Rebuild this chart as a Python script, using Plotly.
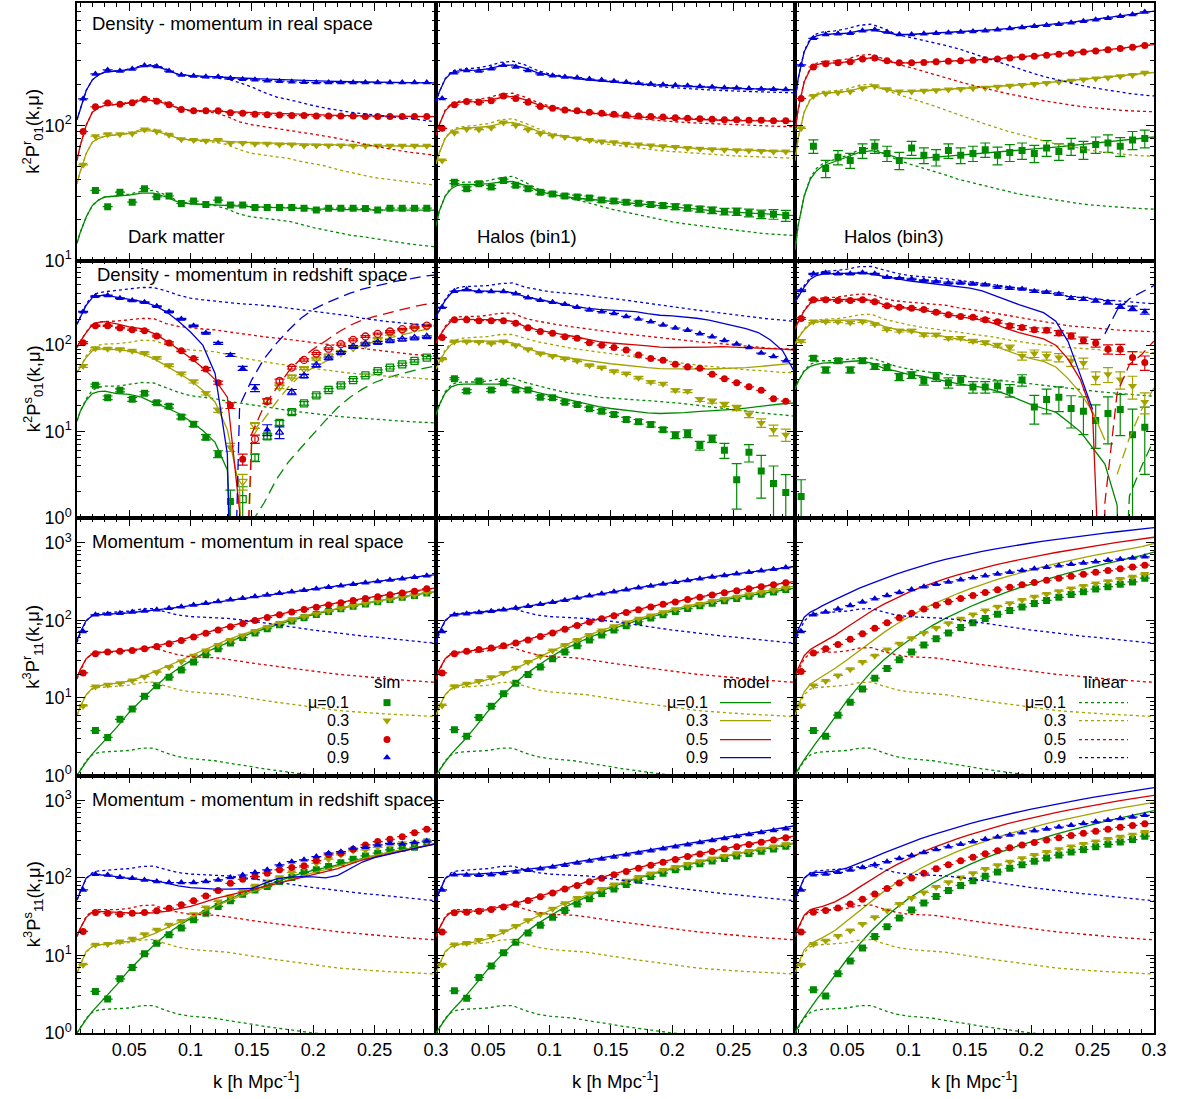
import math
import plotly.graph_objects as go

# ---------------- k grids ----------------
KS = [0.0125, 0.0225, 0.0325, 0.0425, 0.0525, 0.0625, 0.0725, 0.0825, 0.0925, 0.1025,
      0.1125, 0.1225, 0.1325, 0.1425, 0.1525, 0.1625, 0.1725, 0.1825, 0.1925, 0.2025,
      0.2125, 0.2225, 0.2325, 0.2425, 0.2525, 0.2625, 0.2725, 0.2825, 0.2925]
KM = [0.0075, 0.01, 0.015, 0.02, 0.025, 0.03, 0.04, 0.05, 0.06, 0.07, 0.08, 0.09, 0.10,
      0.11, 0.12, 0.13, 0.14, 0.15, 0.16, 0.17, 0.18, 0.19, 0.20, 0.21, 0.22, 0.23, 0.24,
      0.25, 0.26, 0.27, 0.28, 0.29, 0.30]
MUS = [1, 3, 5, 9]
MU_LABELS = ["μ=0.1", "0.3", "0.5", "0.9"]
ROWS = ["DR", "DS", "MR", "MS"]
COLS = ["DM", "H1", "H3"]
X_TICKS = [0.05, 0.1, 0.15, 0.2, 0.25, 0.3]
X_TICK_TEXT = ["0.05", "0.1", "0.15", "0.2", "0.25", "0.3"]
PANEL_TITLES = ["Density - momentum in real space", "Density - momentum in redshift space",
                "Momentum - momentum in real space", "Momentum - momentum in redshift space"]
COL_NAMES = ["Dark matter", "Halos (bin1)", "Halos (bin3)"]
Y_TITLES = ["k<sup>2</sup>P<sup>r</sup><sub>01</sub>(k,μ)", "k<sup>2</sup>P<sup>s</sup><sub>01</sub>(k,μ)",
            "k<sup>3</sup>P<sup>r</sup><sub>11</sub>(k,μ)", "k<sup>3</sup>P<sup>s</sup><sub>11</sub>(k,μ)"]
LEG_HEAD = ["sim", "model", "linear"]

# ================= Row 1: density-momentum, real space =================
SIM_DR_DM_9 = [157, 240, 257, 252, 261, 277, 272, 252, 236, 232, 229, 229, 223, 219, 217, 214, 212, 210, 208, 207, 207, 207, 207, 207, 207, 207, 207, 207, 207]
SIM_DR_DM_5 = [90, 137, 146, 143, 147, 156, 151, 142, 131, 128, 128, 128, 124, 123, 121, 120, 119, 118, 118, 117, 117, 117, 117, 116, 116, 116, 116, 116, 116]
SIM_DR_DM_3 = [51, 83, 86, 86, 87, 93, 90, 85, 79, 78, 77, 78, 74, 74, 73, 73, 72, 72, 71, 71, 71, 71, 70.5, 70.5, 70.5, 70.5, 70.5, 70.5, 70.5]
SIM_DR_DM_1 = [None, 33, 25, 32, 27, 34, 29.6, 30, 26.4, 27.5, 26, 28, 25.7, 25.7, 24.7, 24.7, 24.7, 24.7, 24.4, 23.6, 24.4, 24.4, 24.4, 24.2, 23.6, 24.4, 24.4, 24.4, 24.4]
MOD_DR_DM_9 = [110, 130, 181, 217, 236, 247, 252, 258, 272, 276, 258, 238, 233, 230, 228, 226, 224, 222, 220, 218, 216, 214, 213, 212, 211, 210, 209, 208, 208, 207, 207, 206, 206]
MOD_DR_DM_5 = [55, 70, 100, 125, 135, 140, 143, 146, 153, 153, 145, 134, 129, 128, 127, 126, 125, 124, 123, 122, 121, 120, 119.5, 119, 118.5, 118, 117.5, 117, 117, 116.5, 116, 116, 116]
MOD_DR_DM_3 = [37, 45, 62, 75, 80, 83, 85, 87, 91, 91, 86, 80, 78, 77.5, 77, 76, 75, 74.5, 74, 73.5, 73, 72.5, 72, 71.5, 71, 71, 70.5, 70.5, 70.5, 70.5, 70, 70, 70]
MOD_DR_DM_1 = [13.4, 16, 21, 25.5, 28, 29.5, 30, 30.5, 31.5, 31.5, 29.5, 27, 26.3, 26, 25.8, 25.5, 25.3, 25, 24.8, 24.6, 24.4, 24.2, 24, 24, 23.8, 23.8, 23.7, 23.7, 23.6, 23.6, 23.6, 23.6, 23.6]
LIN_DR_DM_9 = [110, 130, 181, 217, 236, 247, 252, 260, 276, 282, 262, 238, 230, 226, 224, 220, 207, 192, 175, 162, 155, 147, 140, 134, 129, 125, 122, 119, 117, 114, 112, 109, 106]
LIN_DR_DM_5 = [55, 70, 100, 125, 135, 140, 143, 148, 157, 158, 148, 134, 128, 126, 124, 116, 106, 101, 98, 95, 92, 89, 86, 83, 80, 77, 73, 70, 67, 65, 63, 61.5, 60]
LIN_DR_DM_3 = [37, 45, 62, 75, 80, 83, 85, 88, 93, 94, 88, 80, 77, 76, 75, 72, 66, 62, 60, 58.5, 57, 54, 52, 50, 47, 45, 43, 41, 40, 39, 38, 37, 36]
LIN_DR_DM_1 = [13.4, 16, 21, 25.5, 28, 29.5, 30, 31, 32.5, 33, 30.5, 27.5, 26.3, 26, 25.5, 24, 22, 21, 20.5, 20, 19.5, 18.5, 17.5, 16.8, 16, 15.4, 15, 14.5, 14, 13.6, 13.2, 12.9, 12.6]

SIM_DR_H1_9 = [158, 245, 255, 252, 262, 278, 270, 255, 240, 233, 228, 225, 220, 216, 212, 208, 205, 202, 200, 198, 196, 194, 192, 190, 189, 187, 186, 185, 184]
SIM_DR_H1_5 = [95, 142, 150, 148, 152, 165, 158, 148, 138, 134, 130, 128, 125, 123, 121, 119, 117, 116, 115, 114, 113, 112, 111, 110, 110, 109, 109, 108, 108]
SIM_DR_H1_3 = [55, 88, 94, 93, 96, 105, 100, 93, 87, 84, 82, 80, 78, 76, 75, 73, 72, 71, 70, 69, 68, 67, 66.5, 66, 65.5, 65, 64.5, 64, 64]
SIM_DR_H1_1 = [None, 38, 34, 37, 35, 39, 36, 34, 32, 31, 30, 29.5, 29, 28, 27.5, 27, 26.5, 26, 25.5, 25, 24.5, 24, 23.5, 23, 23, 22.5, 22, 22, 21.5]
MOD_DR_H1_9 = [150, 175, 220, 245, 252, 255, 256, 262, 275, 280, 265, 245, 235, 228, 222, 217, 213, 209, 206, 203, 200, 198, 196, 194, 192, 190, 189, 188, 187, 186, 185, 184, 183]
MOD_DR_H1_5 = [85, 100, 128, 142, 147, 149, 150, 153, 160, 164, 155, 143, 136, 131, 127, 124, 121, 119, 117, 115, 114, 113, 112, 111, 110, 109.5, 109, 108.5, 108, 107.5, 107, 107, 107]
MOD_DR_H1_3 = [52, 62, 80, 90, 94, 95, 96, 98, 103, 105, 99, 91, 86, 83, 80, 78, 76, 74.5, 73, 72, 71, 70, 69, 68, 67.5, 67, 66.5, 66, 65.5, 65, 65, 64.5, 64]
MOD_DR_H1_1 = [18, 23, 30, 34, 36, 36.5, 36.5, 37, 38, 38.5, 36, 33, 31, 30, 29, 28.5, 28, 27.5, 27, 26.5, 26, 25.5, 25, 24.5, 24, 23.5, 23, 22.8, 22.5, 22.3, 22, 21.8, 21.5]
LIN_DR_H1_9 = [150, 175, 222, 250, 258, 262, 265, 275, 292, 298, 280, 255, 240, 232, 226, 220, 215, 210, 205, 200, 196, 193, 190, 187, 185, 183, 181, 179, 178, 177, 176, 175, 174]
LIN_DR_H1_5 = [85, 100, 130, 145, 150, 153, 155, 160, 170, 173, 162, 148, 139, 133, 128, 124, 120, 117, 114, 112, 110, 108, 106, 105, 104, 103, 102, 101, 100, 99, 99, 98, 98]
LIN_DR_H1_3 = [52, 62, 81, 92, 96, 98, 100, 103, 110, 112, 104, 95, 88, 84, 80, 77, 74, 72, 70, 68, 66.5, 65, 64, 63, 62, 61, 60, 59.5, 59, 58.5, 58, 57.5, 57]
LIN_DR_H1_1 = [18, 23, 30, 35, 37, 38, 38, 39, 41, 42, 38, 34, 31.5, 30, 28.5, 27, 25.5, 24, 23, 22, 21, 20, 19.3, 18.7, 18.2, 17.7, 17.2, 16.8, 16.4, 16, 15.7, 15.5, 15.3]
ERR_DR_H1_1 = [0, 1, 1, 1, 1, 1, 1, 1, 1, 1, 1, 1, 1, 1, 1, 1, 1, 1, 1, 1.2, 1.2, 1.2, 1.3, 1.3, 1.4, 1.5, 1.6, 1.8, 2]

SIM_DR_H3_9 = [280, 440, 470, 475, 480, 500, 510, 490, 470, 470, 475, 480, 485, 490, 495, 500, 510, 520, 530, 540, 550, 560, 575, 590, 605, 620, 640, 660, 690]
SIM_DR_H3_5 = [158, 270, 285, 290, 295, 310, 315, 300, 290, 290, 292, 295, 298, 300, 303, 306, 310, 315, 320, 325, 330, 336, 342, 348, 355, 362, 370, 378, 390]
SIM_DR_H3_3 = [95, 165, 172, 175, 178, 188, 195, 185, 178, 178, 180, 182, 184, 186, 188, 190, 193, 196, 199, 202, 206, 210, 214, 218, 222, 226, 231, 236, 245]
SIM_DR_H3_1 = [None, 70, 48, 58, 55, 65, 70, 62, 55, 68, 60, 58, 65, 60, 62, 66, 60, 63, 65, 62, 68, 64, 70, 66, 72, 74, 70, 78, 80]
ERR_DR_H3_1 = [0, 8, 7, 7, 7, 8, 8, 8, 8, 8, 8, 8, 8, 8, 8, 8, 9, 9, 9, 9, 9, 9, 10, 10, 10, 11, 11, 12, 12]
MOD_DR_H3_9 = [150, 220, 350, 430, 460, 470, 475, 480, 500, 510, 490, 470, 470, 475, 480, 485, 490, 495, 500, 510, 520, 530, 540, 550, 560, 575, 590, 605, 620, 640, 660, 680, 700]
MOD_DR_H3_5 = [90, 130, 210, 260, 280, 288, 290, 295, 310, 315, 300, 290, 290, 292, 295, 298, 300, 303, 306, 310, 315, 320, 325, 330, 336, 342, 348, 355, 362, 370, 378, 386, 395]
MOD_DR_H3_3 = [55, 80, 125, 155, 168, 173, 175, 178, 188, 195, 185, 178, 178, 180, 182, 184, 186, 188, 190, 193, 196, 199, 202, 206, 210, 214, 218, 222, 226, 231, 236, 241, 246]
MOD_DR_H3_1 = [12, 18, 30, 40, 46, 50, 54, 58, 63, 65, 62, 58, 57, 57, 58, 59, 60, 61, 62, 63, 64, 65, 66, 67.5, 69, 70.5, 72, 73.5, 75, 76.5, 78, 80, 82]
LIN_DR_H3_9 = [150, 220, 355, 440, 475, 490, 500, 520, 550, 560, 520, 470, 450, 430, 410, 390, 370, 345, 320, 300, 280, 262, 245, 230, 218, 208, 198, 190, 183, 177, 172, 168, 165]
LIN_DR_H3_5 = [90, 130, 212, 265, 288, 297, 300, 310, 330, 335, 310, 285, 270, 255, 240, 225, 212, 200, 190, 180, 172, 165, 158, 152, 147, 142, 138, 135, 132, 130, 128, 127, 126]
LIN_DR_H3_3 = [55, 80, 126, 158, 172, 178, 180, 186, 198, 202, 186, 170, 160, 150, 140, 130, 120, 112, 104, 97, 91, 86, 81, 77, 73, 70, 67, 65, 63, 61.5, 60.5, 59.5, 59]
LIN_DR_H3_1 = [12, 18, 30, 41, 48, 52, 56, 60, 66, 68, 62, 56, 52, 49, 46, 43, 40, 38, 36, 34, 32.5, 31, 30, 29, 28, 27, 26.3, 25.7, 25.2, 24.8, 24.5, 24.2, 24]

# ================= Row 2: density-momentum, redshift space (negative = |value| open/dashed) =================
SIM_DS_DM_9 = [244, 368, 375, 349, 328, 313, 282, 244, 201, 168, 138, 105, 77, 54, 32, 10.5, -9.8, -28.7, -44, -58.5, -71, -82, -96, -103, -107, -112, -117, -121, -125]
SIM_DS_DM_5 = [107, 168, 168, 158, 151, 147, 128, 106, 86, 70, 53, 36.8, 20, 4.8, -8.2, -22.5, -38.5, -55, -67.5, -80, -91, -103, -115, -126, -135, -144, -153, -160, -168]
SIM_DS_DM_3 = [57.5, 92, 91, 90, 86, 81, 71, 58.5, 47, 38, 27.7, 17.7, 6.6, -2.65, -11.8, -22.5, -33, -43, -53.5, -69, -75, -82, -94, -103, -117, -134, -149, -158, -166]
SIM_DS_DM_1 = [None, 34.3, 24.6, 30, 23.6, 27.7, 21.5, 19.7, 14.8, 12.2, 8.6, 5.5, 1.55, -1.65, -5.0, -8.8, -12.6, -16.8, -21.2, -26.2, -30.3, -34.3, -39.5, -44.8, -50, -55, -60, -65.7, -71.9]
ERR_DS_DM_9 = [3, 4, 4, 4, 4, 4, 4, 4, 3, 3, 3, 3, 3, 3, 3, 1.5, 1.5, 2, 2, 2, 2, 2, 3, 3, 3, 3, 3, 3, 3]
ERR_DS_DM_5 = [3, 3, 3, 3, 3, 3, 3, 3, 2, 2, 2, 1.5, 1.5, 0.7, 0.9, 1.5, 2, 2, 2, 2, 2, 3, 3, 3, 3, 3, 3, 3, 3]
ERR_DS_DM_3 = [2, 2, 2, 2, 2, 2, 2, 2, 1.5, 1.5, 1.2, 1, 0.7, 0.55, 0.9, 1.2, 1.5, 1.5, 1.5, 2, 2, 2, 2, 2, 3, 3, 3, 3, 3]
ERR_DS_DM_1 = [0, 1.2, 1.2, 1.2, 1.2, 1.2, 1, 1, 0.8, 0.8, 0.6, 0.5, 0.55, 0.65, 0.5, 0.6, 0.8, 1, 1, 1.2, 1.2, 1.4, 1.5, 1.6, 1.8, 2, 2, 2.2, 2.4]
MOD_DS_DM_9 = [175, 205, 290, 355, 372, 380, 360, 335, 322, 290, 245, 190, 142, 100, 47, 5.5, -20, -40, -70, -105, -150, -205, -260, -305, -350, -400, -445, -480, -525, -560, -590, -628, -652]
MOD_DS_DM_5 = [94, 110, 140, 172, 184, 187, 176, 163, 155, 137, 113, 90, 71, 55, 40, 25, 1.2, -9.5, -20, -32, -50, -70, -90, -112, -140, -170, -195, -215, -235, -255, -275, -295, -313]
MOD_DS_DM_3 = [48, 55, 72, 86, 90, 91, 89, 86, 80, 70, 58, 48, 39, 30, 22, 10.5, 2.2, -8.5, -14, -22, -33, -45, -55, -65, -76, -88, -100, -110, -120, -130, -140, -150, -160]
MOD_DS_DM_1 = [13.2, 17, 23, 27.5, 29, 29.4, 27.5, 27, 25, 21.5, 19, 16.3, 13.2, 10.3, 7.5, 3.6, -0.3, -0.9, -1.5, -2.8, -4.5, -6.5, -9.5, -13.5, -19, -25, -31, -37, -42, -46, -50, -54, -57.5]
ZERO_DS_DM = [0.139, 0.1435, 0.142, 0.134]
LIN_DS_DM_9 = [175, 210, 300, 375, 405, 415, 432, 445, 465, 465, 425, 380, 350, 335, 322, 312, 302, 296, 290, 280, 268, 258, 248, 238, 228, 218, 205, 195, 188, 182, 176, 172, 168]
LIN_DS_DM_5 = [94, 110, 142, 175, 185, 188, 190, 195, 204, 203, 178, 165, 158, 154, 150, 143, 135, 130, 125, 121, 117, 112, 107, 103, 99, 95, 91, 88, 84, 81, 78.5, 76.5, 75]
LIN_DS_DM_3 = [48, 56, 75, 92, 100, 103, 104, 108, 114, 113, 101, 92, 88, 86, 84, 78, 72, 68, 64, 61, 58.5, 56, 53.5, 51.5, 49, 47.5, 46, 45, 44, 43, 42, 41, 40]
LIN_DS_DM_1 = [13.2, 17, 24, 30, 32.5, 33.5, 33.5, 35, 37, 36.5, 32, 28.5, 26, 25, 24, 22.5, 21.5, 20.5, 19.5, 18.5, 17.5, 16.8, 16.2, 15.5, 15, 14.6, 14.2, 13.9, 13.6, 13.3, 13, 12.8, 12.6]

SIM_DS_H1_9 = [274, 421, 440, 417, 417, 417, 395, 355, 331, 314, 297, 274, 255, 244, 233, 215, 201, 187, 171, 158, 149, 136, 125, 113, 103, 94, 81, 74, 66]
SIM_DS_H1_5 = [123, 197, 197, 192, 192, 192, 179, 159, 144, 137, 125, 120, 107, 100, 94, 88, 77, 70, 67, 60, 56, 54, 46, 41, 36.8, 33, 30, 24, 22.5]
SIM_DS_H1_3 = [69, 110, 110, 109, 105, 110, 100, 90, 80, 75, 70, 66, 58.5, 55, 50, 47, 42, 37.5, 35.8, 30, 29.4, 23.5, 22.5, 20.6, 18.8, 15.8, 12.6, 10.4, 9.2]
SIM_DS_H1_1 = [None, 41, 29.4, 38.5, 30.3, 36.8, 30.3, 30.3, 25, 24.6, 21.9, 20.6, 18.4, 17.2, 15.8, 13.8, 13, 12.1, 10.5, 9.1, 9.5, 6.9, 8.3, 6.1, 2.77, 5.75, 3.5, 2.5, 1.97]
ERR_DS_H1_3 = [1, 1.5, 1.5, 1.5, 1.5, 1.5, 1.5, 1.5, 1.5, 1.5, 1.5, 1.5, 1.2, 1.2, 1.2, 1.2, 1.2, 1.2, 1.2, 1.2, 1.2, 1.2, 1.2, 1.2, 1.3, 1.3, 1.4, 1.5, 1.5]
ERR_DS_H1_1 = [0, 1.2, 1.2, 1.2, 1.2, 1.2, 1, 1, 1, 1, 0.8, 0.8, 0.8, 0.8, 0.8, 0.8, 0.8, 0.8, 0.6, 0.8, 1.0, 0.8, 0.8, 1.2, 1.5, 1.3, 1.8, 1.5, 1.2]
MOD_DS_H1_9 = [210, 250, 330, 400, 425, 430, 425, 420, 420, 405, 365, 340, 322, 300, 282, 268, 260, 256, 252, 245, 232, 222, 218, 212, 205, 195, 180, 168, 155, 140, 115, 86, 48]
MOD_DS_H1_5 = [107, 125, 160, 190, 198, 200, 198, 197, 198, 188, 165, 150, 140, 133, 126, 118, 110, 106, 104, 101, 98, 95, 94, 94, 94, 95, 96, 95, 94, 93, 92, 90, 88]
MOD_DS_H1_3 = [53, 62, 85, 102, 110, 112, 111, 110, 111, 106, 93, 84, 78, 73, 70, 67, 63, 61, 59, 57.5, 55, 53.5, 53, 53, 53, 53, 53.5, 54, 55, 56.5, 58, 60, 62]
MOD_DS_H1_1 = [15.8, 20, 28, 33, 35, 35.5, 35.5, 35.5, 35.5, 34.5, 31, 28.5, 26.5, 24.5, 22.5, 21, 19.5, 18.5, 17.7, 17, 16.5, 16.2, 16.3, 16.6, 17, 17.3, 17.7, 18.1, 18.7, 19.5, 20.3, 21, 21.5]
LIN_DS_H1_9 = [210, 250, 340, 420, 460, 475, 480, 490, 515, 525, 470, 440, 415, 405, 395, 380, 362, 350, 335, 320, 305, 292, 278, 268, 255, 245, 235, 226, 215, 208, 200, 195, 188]
LIN_DS_H1_5 = [107, 125, 165, 200, 212, 215, 215, 222, 234, 235, 205, 190, 178, 170, 162, 156, 148, 142, 136, 131, 126, 122, 117, 114, 110, 107, 104, 101, 97, 94, 92, 91, 90]
LIN_DS_H1_3 = [53, 62, 88, 108, 117, 121, 123, 126, 133, 133, 120, 110, 103, 96, 91, 87, 83, 80, 76, 73, 70, 67, 64, 62, 59, 57, 55, 54, 52, 51, 49.5, 48.5, 48]
LIN_DS_H1_1 = [15.8, 20, 29, 35, 37, 37.5, 37.5, 38.5, 41, 41.5, 37, 34, 31.5, 29, 27.5, 26.5, 25, 24.3, 23.8, 23.3, 22.8, 22.3, 21.6, 21, 20.2, 19.5, 18.7, 18, 17.3, 16.6, 16, 15.5, 15.1]

SIM_DS_H3_9 = [428, 670, 687, 670, 670, 687, 670, 612, 596, 585, 560, 545, 526, 526, 512, 499, 469, 456, 448, 421, 410, 392, 352, 343, 328, 313, 282, 267, 244]
SIM_DS_H3_5 = [204, 336, 336, 328, 328, 336, 319, 286, 274, 267, 258, 240, 225, 215, 210, 197, 187, 168, 160, 151, 149, 138, 128, 114, 106, 90, 90, 72, 63]
SIM_DS_H3_3 = [112, 188, 188, 188, 183, 188, 175, 153, 147, 147, 132, 132, 121, 121, 112, 107, 100, 94, 75, 80, 75, 72, 66, 62, 42, 46, 40, 33.7, 22]
SIM_DS_H3_1 = [1.77, 70.6, 51.7, 66, 51.7, 66, 56.5, 55, 42.8, 45.2, 38.5, 43.2, 36.8, 39.5, 32.8, 32.8, 33.7, 30, 39.5, 19.2, 23.5, 25, 18.5, 17.2, 13.4, 16.2, 18, 9.2, 11.2]
ERR_DS_H3_9 = [8, 10, 10, 10, 10, 10, 10, 10, 10, 10, 10, 10, 10, 10, 10, 10, 10, 10, 10, 12, 12, 12, 14, 14, 14, 15, 15, 16, 16]
ERR_DS_H3_5 = [5, 6, 6, 6, 6, 6, 6, 6, 6, 6, 6, 6, 6, 6, 6, 7, 7, 8, 8, 8, 9, 9, 10, 10, 11, 11, 12, 12, 12]
ERR_DS_H3_3 = [4, 5, 5, 5, 5, 5, 5, 5, 5, 5, 5, 5, 5, 5, 5, 5, 5, 6, 8, 8, 8, 8, 9, 9, 7, 9, 9, 10, 6]
ERR_DS_H3_1 = [1.0, 4, 4, 4, 4, 4, 4, 4, 4, 4, 4, 5, 5, 5, 5, 5, 5, 5, 6, 7, 7.5, 8, 7.5, 8, 7, 9, 9, 9, 8]
MOD_DS_H3_9 = [313, 360, 470, 580, 640, 665, 670, 675, 685, 665, 625, 590, 555, 535, 515, 495, 470, 458, 425, 375, 330, 295, 265, 238, 190, 110, 45, 18, -135, -255, -345, -410, -490]
MOD_DS_H3_5 = [153, 185, 250, 305, 325, 333, 336, 338, 340, 330, 295, 280, 268, 258, 245, 232, 215, 205, 195, 178, 155, 140, 128, 118, 100, 69, 40, 16, -1.5, -28, -60, -78, -112]
MOD_DS_H3_3 = [103, 120, 150, 175, 185, 190, 192, 195, 198, 188, 165, 152, 145, 140, 136, 125, 118, 112, 110, 98, 86, 77, 70, 65, 56, 41, 28, 17, 8, -3.2, -8.5, -18, -32]
MOD_DS_H3_1 = [30.8, 38, 50, 57, 60, 62, 63, 64, 66, 62, 54, 50, 46, 44, 41, 38, 36, 34, 32.5, 30, 27, 23.5, 20.5, 18.5, 16.8, 13, 10, 6.5, 4.2, 1.4, -1.8, -4, -8.1]
ZERO_DS_H3 = [0.272, None, 0.259, None]
LIN_DS_H3_9 = [313, 370, 490, 610, 680, 710, 730, 760, 810, 815, 740, 680, 640, 625, 612, 590, 565, 545, 520, 500, 480, 455, 430, 410, 385, 370, 355, 345, 335, 325, 315, 308, 300]
LIN_DS_H3_5 = [153, 185, 255, 315, 345, 352, 358, 370, 390, 388, 345, 325, 315, 305, 300, 290, 272, 262, 248, 235, 222, 210, 198, 188, 178, 168, 163, 158, 154, 150, 147, 145, 143]
LIN_DS_H3_3 = [103, 122, 155, 182, 195, 199, 202, 210, 225, 228, 200, 185, 172, 162, 155, 150, 142, 136, 130, 124, 116, 110, 105, 101, 97, 94, 92, 89, 87, 85, 84, 83, 82]
LIN_DS_H3_1 = [30.8, 38, 51, 60, 64, 66, 66, 68, 71, 71, 63, 57, 53, 50, 48, 46, 44, 42.5, 41, 40, 38.5, 37, 35.5, 34, 32.5, 31.5, 30.5, 29.5, 28.5, 27.7, 27, 26.3, 25.7]

# ================= Rows 3/4: momentum-momentum; linear theory shared =================
LIN_MM_9 = [52, 66, 98, 117, 123, 125, 127, 132, 140, 142, 128, 117, 112, 110, 109, 106, 102, 98, 93, 88, 83, 79, 75, 72, 68.5, 66, 63, 61, 58.5, 56.5, 54.5, 52.5, 51]
LIN_MM_5 = [17.6, 22, 32, 37.5, 39, 39, 39, 40.5, 44, 44.5, 39.5, 36, 34, 33.5, 33, 31.5, 29.5, 28.2, 26.8, 25.5, 24.5, 23.3, 22, 21, 20.2, 19.5, 18.8, 18.2, 17.7, 17.2, 16.7, 16.3, 15.9]
LIN_MM_3 = [5.9, 7.5, 11, 13, 13.6, 13.8, 14, 14.6, 15.8, 16, 14.2, 12.8, 12, 11.6, 11.4, 11, 10.4, 9.8, 9.2, 8.8, 8.4, 8.0, 7.5, 7.2, 6.9, 6.7, 6.5, 6.3, 6.2, 6.1, 6.0, 5.9, 5.75]
LIN_MM_1 = [1.0, 1.15, 1.55, 1.85, 1.97, 2.02, 2.04, 2.1, 2.25, 2.25, 1.95, 1.75, 1.65, 1.6, 1.55, 1.45, 1.38, 1.3, 1.22, 1.16, 1.1, 1.05, 1.0, 0.97, 0.95, 0.93, 0.92, 0.91, 0.9, 0.89, 0.88, 0.87, 0.86]

SIM_MR_DM_9 = [72, 118, 121, 124, 128, 132, 137, 143, 150, 158, 166, 175, 184, 193, 203, 213, 223, 234, 245, 256, 268, 280, 292, 305, 318, 331, 345, 360, 375]
SIM_MR_DM_5 = [21, 37, 39, 40, 41, 43, 46, 50, 55, 61, 68, 75, 83, 91, 100, 109, 118, 128, 138, 148, 158, 169, 180, 191, 202, 214, 226, 238, 255]
SIM_MR_DM_3 = [7.9, 14, 14.8, 15.5, 16.8, 18.8, 21.5, 25, 29.5, 35, 41, 48, 56, 64, 73, 82, 92, 102, 112, 122, 132, 143, 154, 165, 176, 188, 200, 212, 228]
SIM_MR_DM_1 = [None, 3.8, 3.1, 5.3, 7.2, 10.5, 14.4, 18.5, 23, 29, 36, 43, 51, 60, 69, 78, 88, 98, 108, 119, 130, 141, 152, 163, 174, 186, 198, 210, 225]
MOD_MR_DM_9 = [55, 70, 100, 115, 118, 120, 122, 125, 130, 135, 140, 147, 155, 163, 172, 181, 190, 200, 210, 220, 231, 242, 254, 266, 279, 292, 305, 318, 332, 346, 360, 375, 390]
MOD_MR_DM_5 = [18, 23, 32, 37, 38.5, 39, 40, 41, 43, 46, 50, 55, 61, 68, 75, 83, 91, 100, 109, 118, 128, 138, 148, 158, 169, 180, 191, 202, 214, 226, 238, 250, 262]
MOD_MR_DM_3 = [6, 7.6, 11, 13.3, 14.2, 14.8, 15.5, 16.5, 18.5, 21.5, 25, 29.5, 35, 41, 48, 56, 64, 73, 82, 92, 102, 112, 122, 132, 143, 154, 165, 176, 188, 200, 212, 224, 237]
MOD_MR_DM_1 = [1.0, 1.15, 1.5, 1.9, 2.3, 2.8, 4.2, 6.5, 9.5, 13.5, 18.5, 24, 30, 37, 44, 52, 60, 69, 78, 88, 98, 108, 119, 130, 141, 152, 163, 174, 186, 198, 210, 222, 235]

SIM_MR_H1_9 = [72, 118, 122, 126, 131, 137, 144, 152, 161, 171, 182, 194, 207, 220, 234, 248, 263, 278, 294, 310, 327, 344, 362, 380, 398, 417, 436, 456, 480]
SIM_MR_H1_5 = [21, 37, 40, 42, 44, 47, 51, 56, 62, 69, 77, 86, 95, 105, 115, 126, 137, 149, 161, 173, 186, 199, 213, 227, 241, 256, 271, 287, 305]
SIM_MR_H1_3 = [8, 14.2, 15.2, 16.5, 18.5, 21, 24.5, 29, 34.5, 41, 48, 56, 65, 74, 84, 94, 105, 116, 127, 139, 151, 163, 176, 189, 202, 216, 230, 245, 262]
SIM_MR_H1_1 = [None, 3.9, 3.2, 5.6, 7.8, 11.3, 15.5, 20, 25, 32, 39, 47, 56, 65, 75, 85, 96, 107, 118, 130, 142, 154, 166, 179, 192, 205, 218, 232, 250]
MOD_MR_H1_9 = [55, 70, 100, 116, 120, 122, 125, 129, 135, 142, 150, 159, 169, 180, 192, 205, 218, 232, 246, 261, 276, 292, 308, 325, 342, 360, 378, 396, 415, 435, 455, 475, 495]
MOD_MR_H1_5 = [18, 23, 32, 37, 38.5, 39.5, 41, 43, 46, 50, 55, 61, 68, 76, 85, 94, 104, 114, 125, 136, 148, 160, 172, 185, 198, 212, 226, 240, 255, 270, 286, 302, 318]
MOD_MR_H1_3 = [6, 7.6, 11, 13.3, 14.2, 14.9, 15.8, 17.3, 19.8, 23, 27.5, 33, 39, 46, 54, 63, 72, 82, 92, 103, 114, 126, 138, 150, 163, 176, 189, 203, 217, 231, 246, 261, 276]
MOD_MR_H1_1 = [1.0, 1.15, 1.5, 1.9, 2.3, 2.8, 4.3, 6.8, 10, 14.5, 20, 26, 33, 41, 49, 58, 67, 77, 87, 98, 109, 120, 132, 144, 156, 168, 180, 193, 206, 219, 232, 246, 260]

SIM_MR_H3_9 = [72, 118, 128, 140, 155, 172, 190, 209, 229, 250, 271, 292, 313, 334, 355, 376, 397, 418, 440, 462, 484, 506, 528, 550, 572, 594, 616, 638, 660]
SIM_MR_H3_5 = [22, 38, 43, 49, 57, 67, 79, 93, 108, 124, 140, 157, 174, 192, 210, 229, 248, 268, 288, 308, 329, 350, 372, 394, 416, 439, 462, 486, 515]
SIM_MR_H3_3 = [8, 14.5, 16.5, 19.5, 23.5, 29, 35, 42, 50, 59, 69, 80, 92, 105, 119, 134, 150, 166, 183, 201, 219, 238, 258, 278, 299, 320, 342, 364, 395]
SIM_MR_H3_1 = [None, 3.8, 3.2, 6, 8.8, 13, 18, 24, 31, 39, 48, 58, 69, 81, 93, 106, 120, 134, 149, 165, 181, 198, 216, 234, 253, 272, 292, 313, 350]
MOD_MR_H3_9 = [55, 75, 110, 128, 140, 155, 185, 220, 260, 300, 345, 395, 445, 500, 555, 610, 665, 720, 775, 830, 885, 940, 995, 1050, 1105, 1160, 1215, 1270, 1330, 1390, 1450, 1510, 1570]
MOD_MR_H3_5 = [18, 24, 35, 42, 47, 52, 64, 82, 105, 132, 162, 195, 230, 267, 305, 345, 386, 428, 471, 515, 560, 606, 653, 701, 750, 800, 851, 903, 956, 1010, 1065, 1120, 1180]
MOD_MR_H3_3 = [6, 8, 12, 15, 17, 19, 24, 31, 41, 54, 70, 89, 111, 135, 162, 191, 222, 255, 290, 327, 366, 407, 449, 493, 538, 585, 633, 682, 733, 785, 838, 893, 980]
MOD_MR_H3_1 = [1.0, 1.2, 1.6, 2.1, 2.7, 3.4, 5.6, 9.3, 14.5, 22, 31, 42, 55, 70, 87, 106, 127, 150, 175, 202, 231, 262, 295, 330, 367, 406, 447, 490, 535, 582, 631, 690, 760]

SIM_MS_DM_9 = [70, 111, 109, 102, 99, 94, 90, 87, 87, 87, 90, 94, 101, 109, 117, 127, 147, 162, 171, 188, 208, 218, 241, 248, 266, 279, 274, 285, 299]
SIM_MS_DM_5 = [20.4, 35.8, 35, 34, 35, 35.8, 37.6, 40.7, 44.9, 50.6, 58.6, 68.7, 85, 96, 104, 115, 127, 136, 143, 167, 198, 208, 234, 266, 294, 315, 340, 383, 424]
SIM_MS_DM_3 = [7.6, 13.7, 14, 15.1, 16.4, 18.8, 21.4, 24.8, 27.9, 34, 41.5, 49.6, 57.5, 66.7, 78.9, 89.7, 102, 117, 136, 154, 174, 198, 223, 229, 248, 266, 279, 285, 294]
SIM_MS_DM_1 = [None, 3.44, 2.74, 5.0, 7.0, 10.5, 14.4, 18.5, 22.5, 28.8, 35, 42.8, 50.6, 61.6, 70, 77.3, 89.7, 101, 117, 127, 140, 157, 174, 192, 208, 229, 241, 248, 290]
MOD_MS_DM_9 = [52, 65, 100, 112, 111, 108, 104, 98, 95, 92, 86, 79, 75, 72.5, 71.5, 71.5, 72, 73, 85, 97, 102, 104, 103, 100, 108, 130, 160, 182, 200, 217, 235, 255, 274]
MOD_MS_DM_5 = [17.6, 22, 31, 36, 37, 36.5, 35.8, 35.3, 35, 35.5, 37, 40, 43, 48, 54, 59, 64.5, 70, 76, 83, 91, 99, 108, 118, 132, 150, 170, 185, 202, 218, 235, 255, 279]
MOD_MS_DM_3 = [5.9, 7.5, 11.3, 13, 13.7, 14, 14.3, 15.2, 16.5, 19, 22.5, 26.5, 31, 36.5, 43, 50, 58, 66, 75, 84, 94, 106, 117, 128, 142, 160, 178, 195, 210, 225, 240, 257, 274]
MOD_MS_DM_1 = [1.0, 1.15, 1.5, 1.9, 2.3, 2.8, 4.2, 6.5, 9.5, 13.5, 18.5, 24, 30, 37, 44, 52, 61, 69, 78, 90, 102, 114, 125, 135, 146, 160, 178, 195, 210, 225, 240, 257, 274]

SIM_MS_H1_9 = [70, 110, 109, 108, 110, 114, 119, 125, 131, 138, 146, 155, 165, 175, 186, 198, 210, 223, 237, 252, 268, 285, 303, 322, 342, 363, 385, 408, 430]
SIM_MS_H1_5 = [20, 35.5, 36, 37, 39, 42, 46, 51, 57, 64, 72, 80, 89, 99, 110, 121, 133, 146, 159, 173, 188, 203, 219, 235, 252, 270, 288, 307, 330]
SIM_MS_H1_3 = [7.6, 13.8, 14.5, 15.8, 17.8, 20.5, 24, 28.5, 34, 40, 47, 55, 63, 72, 82, 92, 103, 114, 126, 138, 151, 164, 178, 192, 207, 222, 238, 254, 272]
SIM_MS_H1_1 = [None, 3.5, 2.8, 5.2, 7.3, 10.8, 14.8, 19.5, 24.5, 31, 38, 46, 54, 63, 72, 82, 93, 104, 115, 127, 139, 152, 165, 178, 192, 206, 221, 236, 255]
MOD_MS_H1_9 = [52, 65, 98, 110, 112, 112, 112, 114, 118, 123, 128, 134, 140, 149, 158, 168, 178, 189, 201, 213, 227, 241, 256, 272, 289, 307, 326, 346, 368, 391, 415, 441, 470]
MOD_MS_H1_5 = [17.6, 22, 31, 36, 37, 37, 37.5, 39, 42, 46, 51, 57, 64, 72, 80, 89, 99, 110, 121, 133, 146, 159, 173, 188, 203, 219, 235, 252, 270, 288, 307, 327, 348]
MOD_MS_H1_3 = [5.9, 7.5, 11.3, 13, 13.8, 14.3, 15, 16.5, 19, 22.5, 27, 32, 38, 45, 52, 60, 69, 78, 88, 99, 110, 122, 134, 147, 160, 174, 188, 203, 218, 234, 250, 267, 285]
MOD_MS_H1_1 = [1.0, 1.15, 1.5, 1.9, 2.3, 2.8, 4.3, 6.7, 9.8, 14, 19.5, 25.5, 32, 40, 48, 57, 66, 76, 86, 97, 108, 120, 132, 145, 158, 172, 186, 200, 215, 230, 246, 262, 279]

SIM_MS_H3_9 = [70, 110, 112, 118, 126, 136, 148, 162, 178, 195, 213, 232, 252, 272, 293, 314, 336, 358, 381, 404, 428, 452, 477, 502, 528, 554, 581, 608, 640]
SIM_MS_H3_5 = [20, 36, 38, 41, 46, 53, 62, 73, 86, 100, 115, 131, 148, 166, 185, 204, 224, 244, 265, 286, 308, 330, 353, 376, 400, 424, 449, 474, 500]
SIM_MS_H3_3 = [7.6, 14, 15.5, 17.8, 21, 25.5, 31, 38, 46, 55, 65, 76, 88, 101, 115, 130, 146, 162, 179, 197, 215, 234, 254, 274, 295, 316, 338, 360, 390]
SIM_MS_H3_1 = [None, 3.6, 3.0, 5.8, 8.5, 12.5, 17.5, 23.5, 30.5, 38.5, 47.5, 57.5, 68.5, 80, 92, 105, 119, 133, 148, 164, 180, 197, 215, 233, 252, 271, 291, 312, 345]
MOD_MS_H3_9 = [52, 66, 100, 115, 118, 118, 122, 135, 155, 180, 210, 243, 280, 320, 362, 406, 452, 500, 550, 602, 656, 712, 770, 830, 892, 956, 1022, 1090, 1160, 1232, 1306, 1382, 1460]
MOD_MS_H3_5 = [17.6, 22.5, 33, 39, 41, 43, 49, 60, 76, 96, 120, 147, 177, 210, 245, 282, 321, 362, 405, 450, 496, 544, 593, 644, 696, 749, 804, 860, 917, 975, 1035, 1096, 1160]
MOD_MS_H3_3 = [5.9, 7.7, 11.8, 14, 15.5, 17, 21, 28, 38, 51, 67, 86, 108, 133, 160, 189, 220, 253, 288, 325, 364, 405, 447, 491, 536, 582, 630, 679, 729, 780, 832, 885, 940]
MOD_MS_H3_1 = [1.0, 1.2, 1.6, 2.1, 2.7, 3.4, 5.5, 9, 14, 21, 30, 41, 54, 69, 86, 105, 126, 149, 174, 201, 230, 261, 294, 329, 366, 405, 446, 489, 534, 581, 630, 681, 735]

# ---------------- styles ----------------
COLOR = {1: "#008a00", 3: "#a3a300", 5: "#d60000", 9: "#0000d6"}
SYMBOL = {1: "square", 3: "triangle-down", 5: "circle", 9: "triangle-up"}
MSIZE = {1: 7, 3: 8, 5: 7, 9: 7}
Y_RANGE = {"DR": [1, 2.905], "DS": [0, 2.98], "MR": [0, 3.32], "MS": [0, 3.32]}
TINY = 0.01
FONT = "Liberation Sans, Arial, Helvetica, sans-serif"
FS = 18.5
FS_LEG = 16

G = globals()


def get(name, n):
    v = G.get(name)
    if v is None:
        return None
    v = list(v)[:n]
    return v + [None] * (n - len(v))


fig = go.Figure()
layout = dict(width=1185, height=1099, margin=dict(l=77, r=31, t=1, b=66),
              paper_bgcolor="white", plot_bgcolor="rgba(0,0,0,0)",
              font=dict(family=FONT, size=18, color="black"), showlegend=False)

for n in range(1, 13):
    r, c = (n - 1) // 3, (n - 1) % 3
    row, col = ROWS[r], COLS[c]
    sx = "" if n == 1 else str(n)
    xa, ya = "x" + sx, "y" + sx
    yr = Y_RANGE[row]
    ytv = [v for v in [1, 10, 100, 1000] if yr[0] - 1e-6 <= math.log10(v) <= yr[1] + 1e-6]
    layout["xaxis" + sx] = dict(domain=[c / 3, (c + 1) / 3], anchor=ya, range=[0.0075, 0.30001],
                                showline=True, mirror="allticks", linecolor="black", linewidth=1.5,
                                ticks="inside", ticklen=8, tickwidth=1, tickcolor="black",
                                tickmode="array", tickvals=X_TICKS, ticktext=X_TICK_TEXT,
                                showticklabels=(r == 3), showgrid=False, zeroline=False,
                                tickfont=dict(size=18),
                                minor=dict(ticks="inside", ticklen=4, tickcolor="black",
                                           tick0=0, dtick=0.01, showgrid=False))
    layout["yaxis" + sx] = dict(domain=[1 - (r + 1) / 4, 1 - r / 4], anchor=xa, type="log", range=yr,
                                showline=True, mirror="allticks", linecolor="black", linewidth=1.5,
                                ticks="inside", ticklen=8, tickwidth=1, tickcolor="black",
                                tickmode="array", tickvals=ytv,
                                ticktext=["10<sup>%d</sup>" % round(math.log10(v)) for v in ytv],
                                showticklabels=(c == 0), showgrid=False, zeroline=False,
                                tickfont=dict(size=18),
                                minor=dict(ticks="inside", ticklen=4, tickcolor="black",
                                           dtick="D1", showgrid=False))

    for i, mu in enumerate(MUS):
        colr = COLOR[mu]
        # linear theory (dotted)
        lname = ("LIN_MM_%d" % mu) if row in ("MR", "MS") else ("LIN_%s_%s_%d" % (row, col, mu))
        lin = get(lname, len(KM))
        if lin:
            fig.add_trace(go.Scatter(x=KM, y=lin, mode="lines", xaxis=xa, yaxis=ya, hoverinfo="skip",
                                     line=dict(color=colr, width=1.3, dash="3px,3px")))
        # model (solid for positive, long dashes for negative)
        mod = get("MOD_%s_%s_%d" % (row, col, mu), len(KM))
        if mod:
            pts = list(zip(KM, mod))
            zl = G.get("ZERO_%s_%s" % (row, col))
            z = zl[i] if zl else None
            if z is not None:
                j = next(idx for idx, (k, v) in enumerate(pts) if k > z)
                pts = pts[:j] + [(z, TINY), (z, -TINY)] + pts[j:]
            kx = [p[0] for p in pts]
            pos = [(v if (v is not None and v > 0) else None) for _, v in pts]
            neg = [(-v if (v is not None and v < 0) else None) for _, v in pts]
            fig.add_trace(go.Scatter(x=kx, y=pos, mode="lines", xaxis=xa, yaxis=ya, hoverinfo="skip",
                                     line=dict(color=colr, width=1.3)))
            if any(v is not None for v in neg):
                fig.add_trace(go.Scatter(x=kx, y=neg, mode="lines", xaxis=xa, yaxis=ya, hoverinfo="skip",
                                         line=dict(color=colr, width=1.3, dash="11px,6px")))
        # simulation points (filled: positive, open: negative)
        sim = get("SIM_%s_%s_%d" % (row, col, mu), len(KS))
        err = get("ERR_%s_%s_%d" % (row, col, mu), len(KS))
        if sim:
            for sign in (1, -1):
                xs, ys, es = [], [], []
                for idx, (k, v) in enumerate(zip(KS, sim)):
                    if v is None or v * sign <= 0:
                        continue
                    xs.append(k)
                    ys.append(abs(v))
                    es.append((err[idx] or 0) if err else 0)
                if not xs:
                    continue
                sym = SYMBOL[mu] + ("" if sign > 0 else "-open")
                fig.add_trace(go.Scatter(
                    x=xs, y=ys, mode="markers", xaxis=xa, yaxis=ya, hoverinfo="skip",
                    marker=dict(symbol=sym, size=MSIZE[mu], color=colr,
                                line=dict(color=colr, width=1.3 if sign < 0 else 0)),
                    error_y=dict(type="data", array=es, visible=True, color=colr, thickness=1.2, width=5)))

# ---------------- overlay axis for legend glyphs ----------------
layout["xaxis13"] = dict(domain=[0, 1], range=[0, 1], visible=False, anchor="y13", fixedrange=True)
layout["yaxis13"] = dict(domain=[0, 1], range=[0, 1], visible=False, anchor="x13", fixedrange=True)


def px_x(p):
    return (p - 77) / 1077.0


def px_y(p):
    return (1033 - p) / 1032.0


LEG_ROWS_PX = [702, 720, 739, 757]
annotations = []
shapes = []
title_pos = [(90, 22), (95, 273), (90, 541), (90, 799)]
for r in range(4):
    annotations.append(dict(text=PANEL_TITLES[r], xref="paper", yref="paper", x=px_x(title_pos[r][0]),
                            y=px_y(title_pos[r][1]), xanchor="left", yanchor="middle", showarrow=False,
                            font=dict(size=FS)))
name_centers = [176, 527, 894]
for c in range(3):
    annotations.append(dict(text=COL_NAMES[c], xref="paper", yref="paper", x=px_x(name_centers[c]),
                            y=px_y(235), xanchor="center", yanchor="middle", showarrow=False,
                            font=dict(size=FS)))
for r in range(4):
    annotations.append(dict(text=Y_TITLES[r], xref="paper", yref="paper", x=px_x(33), y=1 - (r + 0.5) / 4,
                            textangle=-90, xanchor="center", yanchor="middle", showarrow=False,
                            font=dict(size=FS)))
for c in range(3):
    annotations.append(dict(text="k [h Mpc<sup>-1</sup>]", xref="paper", yref="paper",
                            x=(c + 0.5) / 3, y=px_y(1080), xanchor="center", yanchor="middle",
                            showarrow=False, font=dict(size=FS)))
head_x = [387, 746, 1105]
lab_right = [350, 709, 1067]
for c in range(3):
    annotations.append(dict(text=LEG_HEAD[c], xref="paper", yref="paper", x=px_x(head_x[c]), y=px_y(682),
                            xanchor="center", yanchor="middle", showarrow=False, font=dict(size=17),
                            borderpad=0))
    for i, mu in enumerate(MUS):
        annotations.append(dict(text=MU_LABELS[i], xref="paper", yref="paper", x=px_x(lab_right[c]),
                                y=px_y(LEG_ROWS_PX[i]), xanchor="right", yanchor="middle",
                                showarrow=False, font=dict(size=FS_LEG), borderpad=0))
for i, mu in enumerate(MUS):
    fig.add_trace(go.Scatter(x=[px_x(387)], y=[px_y(LEG_ROWS_PX[i])], xaxis="x13", yaxis="y13", mode="markers",
                             hoverinfo="skip",
                             marker=dict(symbol=SYMBOL[mu], size=MSIZE[mu], color=COLOR[mu], line=dict(width=0))))
    shapes.append(dict(type="line", xref="paper", yref="paper", x0=px_x(720), x1=px_x(771),
                       y0=px_y(LEG_ROWS_PX[i]), y1=px_y(LEG_ROWS_PX[i]),
                       line=dict(color=COLOR[mu], width=1.3)))
    shapes.append(dict(type="line", xref="paper", yref="paper", x0=px_x(1079), x1=px_x(1128),
                       y0=px_y(LEG_ROWS_PX[i]), y1=px_y(LEG_ROWS_PX[i]),
                       line=dict(color=COLOR[mu], width=1.3, dash="3px,3px")))

layout["annotations"] = annotations
layout["shapes"] = shapes
fig.update_layout(**layout)
fig.write_html("out.html")
